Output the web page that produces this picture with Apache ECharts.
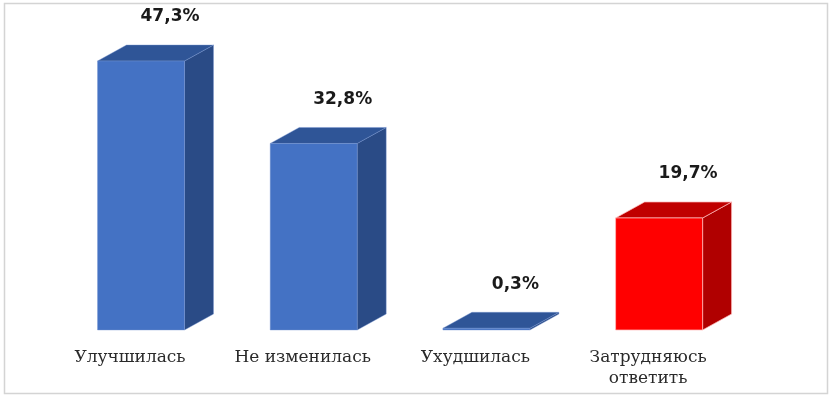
<!DOCTYPE html>
<html>
<head>
<meta charset="utf-8">
<script src="https://cdn.jsdelivr.net/npm/echarts@6/dist/echarts.min.js"></script>
<style>html,body{margin:0;padding:0;background:#fff;}#c{width:833px;height:399px;}</style>
</head>
<body>
<div id="c"></div>
<script>
var categories = ['Улучшилась', 'Не изменилась', 'Ухудшилась', 'Затрудняюсь\nответить'];
var values = [47.3, 32.8, 0.3, 19.7];
var frontColors = ['#4472C4', '#4472C4', '#4472C4', '#FF0000'];
var topColors = ['#2F5597', '#2F5597', '#2F5597', '#C00000'];
var sideColors = ['#2A4B86', '#2A4B86', '#2A4B86', '#B00000'];

var chart = echarts.init(document.getElementById('c'), null, {renderer: 'canvas'});
var W = 87, DX = 29, DY = -16, SHIFT = 11;

function fmt(v) { return v.toFixed(1).replace('.', ',') + '%'; }

chart.setOption({
  animation: false,
  backgroundColor: '#fff',
  graphic: [{
    type: 'rect', shape: {x: 4.5, y: 3.5, width: 823, height: 390},
    style: {fill: 'none', stroke: '#d4d4d4', lineWidth: 1.5}, z: 0
  }],
  grid: {left: 43.65, right: 98.55, top: 45.65, bottom: 69, containLabel: false},
  xAxis: {
    type: 'category', data: categories,
    axisLine: {show: false}, axisTick: {show: false}, splitLine: {show: false},
    axisLabel: {fontFamily: 'DejaVu Serif', fontSize: 17, color: '#2a2a2a', lineHeight: 21, margin: 17, interval: 0}
  },
  yAxis: {type: 'value', min: 0, max: 50, show: false, splitLine: {show: false}},
  series: [{
    type: 'custom',
    data: values.map(function (v, i) { return [i, v]; }),
    renderItem: function (params, api) {
      var i = api.value(0), v = api.value(1);
      var top = api.coord([i, v]);
      var base = api.coord([i, 0]);
      var cx = top[0] + SHIFT;
      var x0 = cx - W / 2, x1 = cx + W / 2, yT = top[1], y0 = base[1];
      var stroke = i === 3 ? 'rgba(255,190,190,0.9)' : 'rgba(120,150,210,0.5)';
      return {
        type: 'group',
        children: [
          {type: 'polygon', shape: {points: [[x1, yT], [x1 + DX, yT + DY], [x1 + DX, y0 + DY], [x1, y0]]},
           style: {fill: sideColors[i], stroke: stroke, lineWidth: 0.8}},
          {type: 'polygon', shape: {points: [[x0, yT], [x0 + DX, yT + DY], [x1 + DX, yT + DY], [x1, yT]]},
           style: {fill: topColors[i], stroke: stroke, lineWidth: 0.8}},
          {type: 'rect', shape: {x: x0, y: yT, width: W, height: y0 - yT},
           style: {fill: frontColors[i], stroke: stroke, lineWidth: 0.8}},
          {type: 'text', x: cx + DX, y: yT + DY - 28,
           style: {text: fmt(v), fontFamily: 'DejaVu Sans', fontWeight: 'bold', fontSize: 17,
                   fill: '#1a1a1a', align: 'center', verticalAlign: 'middle'}}
        ]
      };
    }
  }]
});
</script>
</body>
</html>
